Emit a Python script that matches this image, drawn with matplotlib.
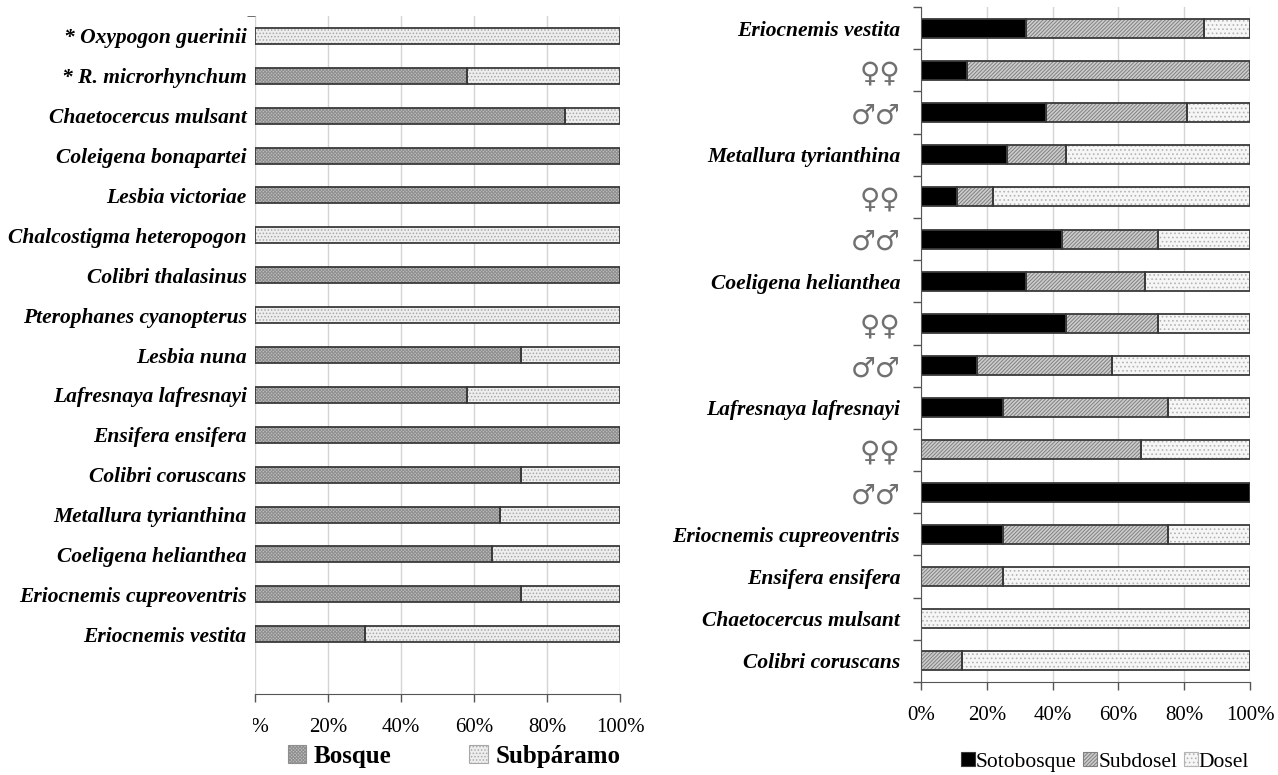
import matplotlib
matplotlib.use("Agg")
import matplotlib.pyplot as plt
from matplotlib.patches import Patch, Rectangle
from matplotlib.ticker import FixedLocator, PercentFormatter

# Panel A: use of habitat by species (% of records)
species_a = [
    "* Oxypogon guerinii", "* R. microrhynchum", "Chaetocercus mulsant",
    "Coleigena bonapartei", "Lesbia victoriae", "Chalcostigma heteropogon",
    "Colibri thalasinus", "Pterophanes cyanopterus", "Lesbia nuna",
    "Lafresnaya lafresnayi", "Ensifera ensifera", "Colibri coruscans",
    "Metallura tyrianthina", "Coeligena helianthea", "Eriocnemis cupreoventris",
    "Eriocnemis vestita",
]
bosque = [0, 58, 85, 100, 100, 0, 100, 0, 73, 58, 100, 73, 67, 65, 73, 30]
subparamo = [100 - b for b in bosque]

# Panel B: vertical stratum by species / sex
labels_b = [
    "Eriocnemis vestita", "♀♀", "♂♂",
    "Metallura tyrianthina", "♀♀", "♂♂",
    "Coeligena helianthea", "♀♀", "♂♂",
    "Lafresnaya lafresnayi", "♀♀", "♂♂",
    "Eriocnemis cupreoventris", "Ensifera ensifera", "Chaetocercus mulsant",
    "Colibri coruscans",
]
sotobosque = [32, 14, 38, 26, 11, 43, 32, 44, 17, 25, 0, 100, 25, 0, 0, 0]
subdosel = [54, 86, 43, 18, 11, 29, 36, 28, 41, 50, 67, 0, 50, 25, 0, 12.5]
dosel = [100 - a - b for a, b in zip(sotobosque, subdosel)]

SERIF = ["Liberation Serif", "DejaVu Serif"]
plt.rcParams["font.family"] = SERIF
plt.rcParams["hatch.linewidth"] = 0.7

EDGE = "#3a3a3a"
GRID = "#d4d4d4"

# (face, hatch, hatch colour)
ST_BOSQUE = ("#c2c2c2", "xxxxxxxxxx", "#8e8e8e")
ST_SUBPAR = ("#eeeeee", ".....", "#a8a8a8")
ST_SOTO = ("black", None, "black")
ST_SUBDOSEL = ("#cdcdcd", "/////////", "#808080")
ST_DOSEL = ("#f6f6f6", "....", "#b4b4b4")


def hbar(ax, y, width, left, style, height):
    face, hatch, hcol = style
    ax.barh(y, width, left=left, height=height, color=face, hatch=hatch,
            edgecolor=hcol, linewidth=0, zorder=2)
    widths = [w if w > 0 else float("nan") for w in width]
    ax.barh(y, widths, left=left, height=height, fill=False,
            edgecolor=EDGE, linewidth=1.3, zorder=3)


def style_xaxis(ax):
    ax.set_xlim(0, 100)
    ax.xaxis.set_major_locator(FixedLocator([0, 20, 40, 60, 80, 100]))
    ax.xaxis.set_major_formatter(PercentFormatter(decimals=0))
    ax.grid(axis="x", color=GRID, linewidth=1.0, zorder=0)
    ax.tick_params(axis="x", direction="out", length=6, width=1,
                   color="#555555", pad=11, labelsize=15)
    for s in ("top", "right", "left"):
        ax.spines[s].set_visible(False)
    ax.spines["bottom"].set_color("#555555")
    ax.spines["bottom"].set_zorder(4)


fig = plt.figure(figsize=(12.78, 7.75), dpi=100)
W, H = 1278, 775

# ---- panel A ----
axA = fig.add_axes([255 / W, 1 - 694 / H, 365 / W, 678 / H])
ya = list(range(len(species_a)))
hbar(axA, ya, bosque, [0] * len(ya), ST_BOSQUE, 0.4)
hbar(axA, ya, subparamo, bosque, ST_SUBPAR, 0.4)
axA.set_ylim(16.5, -0.5)
style_xaxis(axA)
axA.set_yticks(ya)
axA.set_yticklabels(species_a, fontsize=15.5, fontweight="bold", fontstyle="italic")
axA.tick_params(axis="y", length=0, pad=6)
axA.set_yticks([-0.5], minor=True)
axA.tick_params(axis="y", which="minor", length=6, color="#555555")
# the 0% label sits partly outside the panel, keep only what shows
lab0 = axA.get_xticklabels()[0]
lab0.set_clip_path(Rectangle((253 / W, 0), 0.1, 1, transform=fig.transFigure))

# ---- panel B ----
axB = fig.add_axes([921 / W, 1 - 682 / H, 329 / W, 675 / H])
yb = list(range(len(labels_b)))
hbar(axB, yb, sotobosque, [0] * len(yb), ST_SOTO, 0.45)
hbar(axB, yb, subdosel, sotobosque, ST_SUBDOSEL, 0.45)
left3 = [a + b for a, b in zip(sotobosque, subdosel)]
hbar(axB, yb, dosel, left3, ST_DOSEL, 0.45)
axB.set_ylim(15.5, -0.5)
style_xaxis(axB)
axB.spines["left"].set_visible(True)
axB.spines["left"].set_color("#555555")
axB.spines["left"].set_zorder(4)
axB.set_yticks(yb)
axB.set_yticklabels(labels_b)
axB.set_yticks([i - 0.5 for i in range(len(yb) + 1)], minor=True)
axB.tick_params(axis="y", which="major", length=0, pad=15)
axB.tick_params(axis="y", which="minor", length=6, width=1, color="#555555")
for t in axB.get_yticklabels():
    if t.get_text() in ("♀♀", "♂♂"):
        t.set_family(["DejaVu Sans"])
        t.set_fontsize(20)
        t.set_color("#707070")
    else:
        t.set_fontsize(15.5)
        t.set_fontweight("bold")
        t.set_fontstyle("italic")


def legend_patch(style, label):
    face, hatch, hcol = style
    return Patch(facecolor=face, hatch=hatch, edgecolor=hcol if hatch else EDGE,
                 linewidth=0.8, label=label)


fig.legend(handles=[legend_patch(ST_BOSQUE, "Bosque"), legend_patch(ST_SUBPAR, "Subpáramo")],
           loc="center", bbox_to_anchor=(454 / W, 1 - 756 / H), ncol=2, frameon=False,
           handlelength=0.75, handleheight=0.75, handletextpad=0.3, columnspacing=3.1,
           prop={"family": SERIF, "weight": "bold", "size": 18})
fig.legend(handles=[legend_patch(ST_SOTO, "Sotobosque"), legend_patch(ST_SUBDOSEL, "Subdosel"),
                    legend_patch(ST_DOSEL, "Dosel")],
           loc="center", bbox_to_anchor=(1105 / W, 1 - 762 / H), ncol=3, frameon=False,
           handlelength=0.65, handleheight=0.65, handletextpad=0.05, columnspacing=0.3,
           prop={"family": SERIF, "size": 15.5})

fig.savefig("out.png", dpi=100)
